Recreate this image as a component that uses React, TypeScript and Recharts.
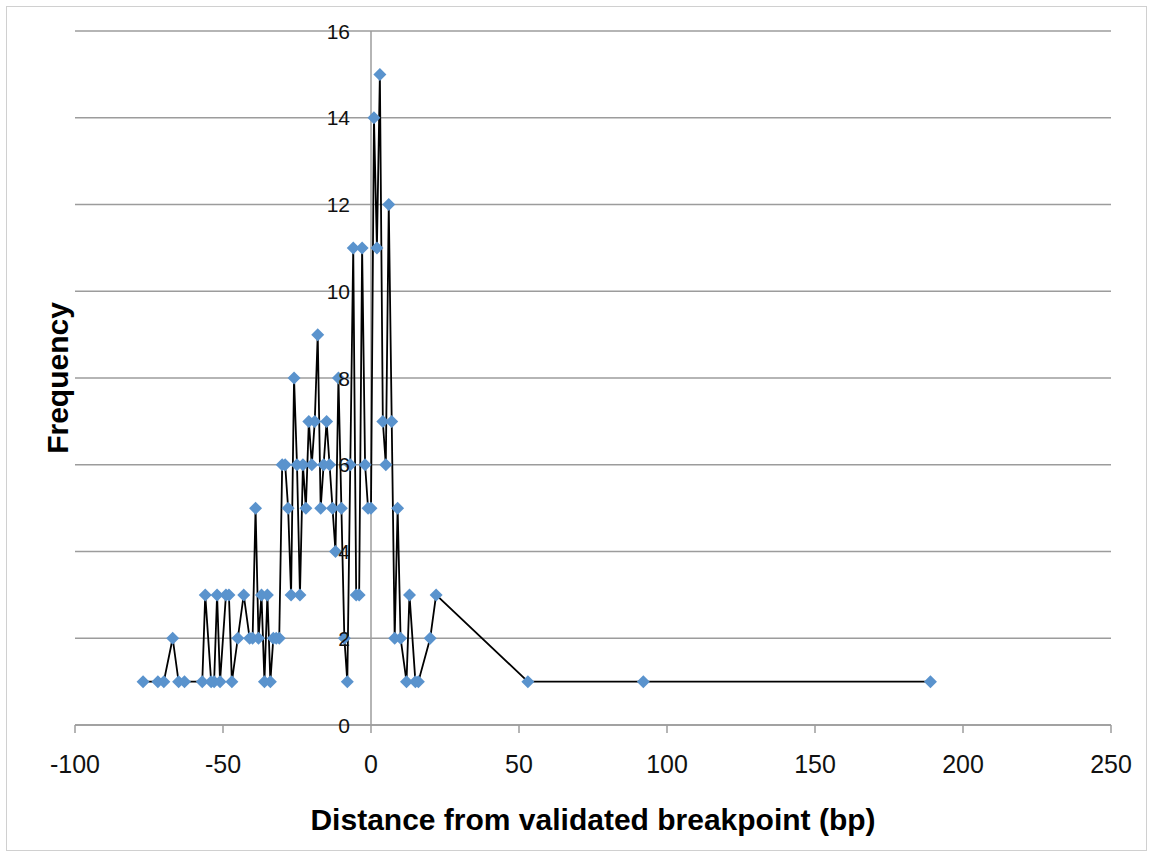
import React from "react";
import {
  LineChart,
  Line,
  XAxis,
  YAxis,
  CartesianGrid,
  ReferenceLine,
  Label,
} from "recharts";

const distances = [
  -77, -72, -70, -67, -65, -63, -57, -56, -54, -53, -52, -51, -49, -48, -47, -45,
  -43, -41, -40, -39, -38, -37, -36, -35, -34, -33, -32, -31, -30, -29, -28, -27,
  -26, -25, -24, -23, -22, -21, -20, -19, -18, -17, -16, -15, -14, -13, -12, -11,
  -10, -9, -8, -7, -6, -5, -4, -3, -2, -1, 0, 1, 2, 3, 4, 5, 6, 7, 8, 9, 10, 12,
  13, 15, 16, 20, 22, 53, 92, 189,
];

const frequencies = [
  1, 1, 1, 2, 1, 1, 1, 3, 1, 1, 3, 1, 3, 3, 1, 2,
  3, 2, 2, 5, 2, 3, 1, 3, 1, 2, 2, 2, 6, 6, 5, 3,
  8, 6, 3, 6, 5, 7, 6, 7, 9, 5, 6, 7, 6, 5, 4, 8,
  5, 2, 1, 6, 11, 3, 3, 11, 6, 5, 5, 14, 11, 15, 7, 6, 12, 7, 2, 5, 2, 1,
  3, 1, 1, 2, 3, 1, 1, 1,
];

const xTicks = [-100, -50, 0, 50, 100, 150, 200, 250];
const yTicks = [0, 2, 4, 6, 8, 10, 12, 14, 16];

const data = distances.map((d, i) => ({ x: d, y: frequencies[i] }));

const WIDTH = 1153;
const HEIGHT = 857;
const PLOT_LEFT = 75;
const PLOT_RIGHT = 1111;
const X_MIN = -100;
const X_MAX = 250;
// the vertical axis crosses at x = 0, like in the Excel original
const AXIS_X = PLOT_LEFT + ((0 - X_MIN) / (X_MAX - X_MIN)) * (PLOT_RIGHT - PLOT_LEFT);

const FONT = "'Liberation Sans', Arial, sans-serif";
const GRID = "#9c9c9c";
const MARKER = "#5A93CD";

const Diamond = (props: any) => {
  const { cx, cy } = props;
  if (cx == null || cy == null) return null;
  const r = 6.5;
  return (
    <polygon
      points={`${cx},${cy - r} ${cx + r},${cy} ${cx},${cy + r} ${cx - r},${cy}`}
      fill={MARKER}
      stroke="none"
    />
  );
};

const YTick = (props: any) => {
  const { y, payload } = props;
  return (
    <text
      x={AXIS_X - 21}
      y={y}
      textAnchor="end"
      dominantBaseline="central"
      fontFamily={FONT}
      fontSize={21}
      fill="#111"
    >
      {payload.value}
    </text>
  );
};

const App: React.FC = () => {
  return (
    <div style={{ position: "absolute", left: 0, top: 0, width: WIDTH, height: HEIGHT, background: "#fff" }}>
      <div
        style={{
          position: "absolute",
          left: 6,
          top: 6,
          width: WIDTH - 14,
          height: HEIGHT - 14,
          border: "1px solid #d0d0d0",
        }}
      />
      <LineChart
        width={WIDTH}
        height={HEIGHT}
        data={data}
        margin={{ top: 31, right: WIDTH - PLOT_RIGHT, bottom: 0, left: 0 }}
      >
        <CartesianGrid vertical={false} stroke={GRID} strokeWidth={1.5} />
        <XAxis
          dataKey="x"
          type="number"
          domain={[X_MIN, X_MAX]}
          ticks={xTicks}
          interval={0}
          height={132}
          stroke={GRID}
          strokeWidth={1.5}
          tickSize={8}
          tickMargin={22}
          tick={{ fontSize: 25, fill: "#111", fontFamily: FONT }}
        >
          <Label
            content={({ viewBox }: any) => (
              <text
                x={viewBox.x + viewBox.width / 2}
                y={viewBox.y + 105}
                textAnchor="middle"
                fontFamily={FONT}
                fontWeight="bold"
                fontSize={30}
                fill="#000"
              >
                Distance from validated breakpoint (bp)
              </text>
            )}
          />
        </XAxis>
        <YAxis
          type="number"
          domain={[0, 16]}
          ticks={yTicks}
          interval={0}
          width={PLOT_LEFT}
          axisLine={false}
          tickLine={false}
          tick={<YTick />}
        >
          <Label
            content={({ viewBox }: any) => {
              const cx = viewBox.x + 57;
              const cy = viewBox.y + viewBox.height / 2;
              return (
                <text
                  x={cx}
                  y={cy}
                  transform={`rotate(-90 ${cx} ${cy})`}
                  textAnchor="middle"
                  dominantBaseline="central"
                  fontFamily={FONT}
                  fontWeight="bold"
                  fontSize={30}
                  fill="#000"
                >
                  Frequency
                </text>
              );
            }}
          />
        </YAxis>
        <ReferenceLine x={0} stroke={GRID} strokeWidth={1.5} />
        <Line
          dataKey="y"
          type="linear"
          stroke="#000"
          strokeWidth={1.8}
          dot={<Diamond />}
          activeDot={false}
          isAnimationActive={false}
        />
      </LineChart>
    </div>
  );
};

export default App;
